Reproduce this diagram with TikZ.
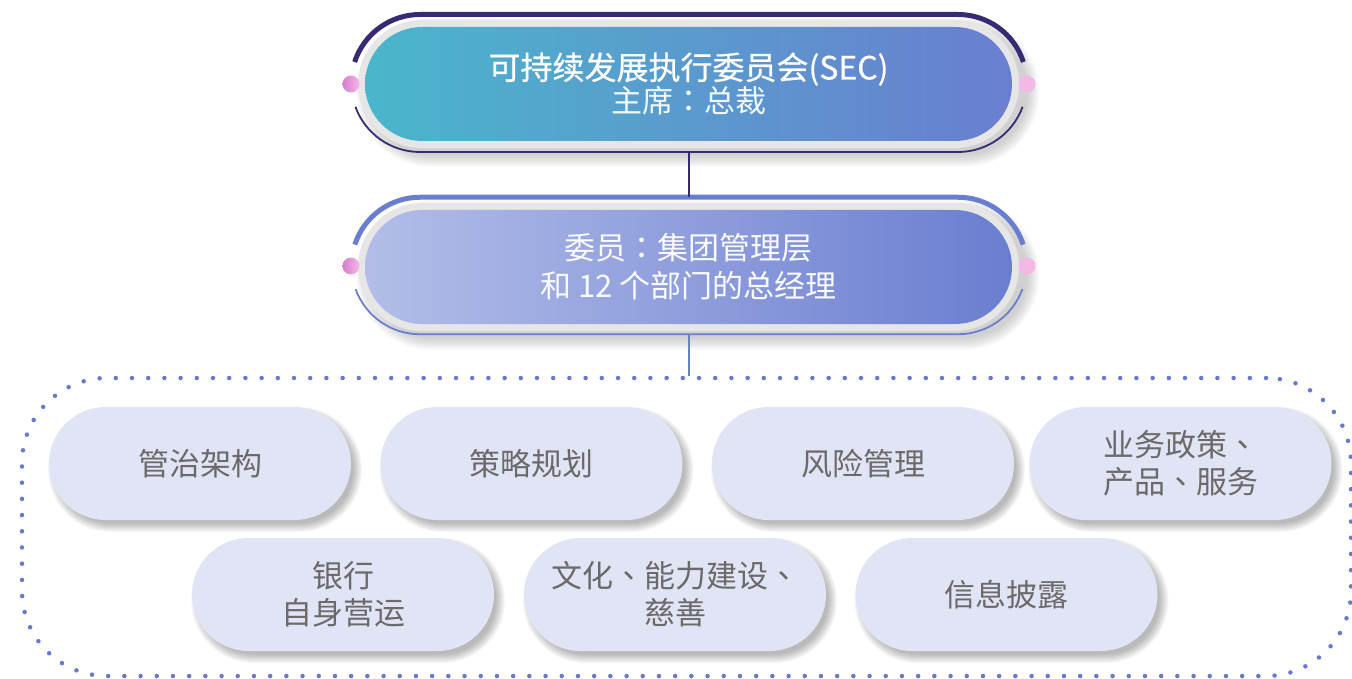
\documentclass[tikz,border=0pt]{standalone}
\usepackage{fontspec}
\setmainfont{Noto Sans CJK SC}
\newfontfamily\titlefont[FakeBold=0.6]{Noto Sans CJK SC}
\newfontfamily\tcfont{Noto Sans CJK TC}
\newcommand\dun{{\tcfont 、}}
\newcommand\mao{{\tcfont ：}}
\usetikzlibrary{shapes.misc}
\definecolor{darkp}{HTML}{372A74}
\definecolor{midb}{HTML}{6A7ED0}
\definecolor{teal1}{HTML}{4AB6CB}
\definecolor{lav}{HTML}{B3BDE8}
\definecolor{pillfill}{HTML}{E1E4F5}
\definecolor{txtgray}{HTML}{6A6A6A}
\definecolor{dotc}{HTML}{6878CF}
\definecolor{pinkA}{HTML}{D77DD0}
\definecolor{pinkB}{HTML}{F3B8E6}
\definecolor{ringgray}{HTML}{E6E6E6}
% soft shadow: cx cy w h dx dy step shrink opacity (pixel units, y downwards)
\newcommand\softsh[9]{%
  \foreach \i in {1,...,10}{%
    \pgfmathsetmacro\ee{\i*#7-#8}%
    \pgfmathsetmacro\rr{#4/2+\ee-0.05}%
    \fill[black,opacity=#9,rounded corners=\rr pt]
      ({#1-#3/2-\ee+#5},{-(#2)+#4/2+\ee-#6}) rectangle
      ({#1+#3/2+\ee+#5},{-(#2)-#4/2-\ee-#6});
  }}
\tikzset{
  pill/.style={rounded rectangle, minimum width=302pt, minimum height=113pt,
    fill=pillfill, text=txtgray, font=\fontsize{31}{37}\selectfont,
    align=center, inner sep=0pt},
  bigpill/.style={rounded rectangle, minimum width=647pt, minimum height=114pt,
    align=center, inner sep=0pt},
  ring/.style={rounded rectangle, minimum width=661pt, minimum height=128pt,
    fill=ringgray, inner sep=0pt},
  framebox/.style={rounded rectangle, minimum width=678pt, minimum height=137pt,
    inner sep=0pt, draw=none},
  thickarc/.style={line width=5pt},
  thinarc/.style={line width=1.8pt},
  conn/.style={line width=1.6pt},
}
\begin{document}
\begin{tikzpicture}[x=1pt,y=1pt]
\useasboundingbox (0,0) rectangle (1352,-679);

% ---------- frame 1 (SEC) ----------
\node[framebox] (f1) at (689,-83.25) {};
\softsh{693}{88}{661}{128}{5}{4}{1.3}{2}{0.02}
\node[ring] (r1) at (688.5,-84) {};
\node[bigpill, left color=teal1, right color=midb, text=white] (sec) at (688.5,-84)
  {{\titlefont\fontsize{32}{36}\selectfont 可持续发展执行委员会(SEC)}\\[0pt]
   {\fontsize{31}{36}\selectfont\color{white!92!teal1}主席\mao 总裁}};
\draw[darkp,thickarc] ([shift={(162:68.75)}]420,-83.25) arc[start angle=162,end angle=90,radius=68.75]
  -- (958,-14.5) arc[start angle=90,end angle=18,radius=68.75];
\draw[darkp,thinarc] ([shift={(200:68.75)}]420,-83.25) arc[start angle=200,end angle=270,radius=68.75]
  -- (958,-152) arc[start angle=270,end angle=340,radius=68.75];
\shade[left color=pinkA,right color=pinkB] (351,-84) circle (8.5);
\fill[pinkB] (1027,-84) circle (8.5);

% ---------- frame 2 (members) ----------
\node[framebox] (f2) at (689,-265.75) {};
\softsh{693}{271}{661}{128}{5}{4}{1.3}{2}{0.02}
\node[ring] (r2) at (688.5,-267) {};
\node[bigpill, left color=lav, right color=midb, text=white!94!lav,
  font=\fontsize{31}{38}\selectfont] (mem) at (688.5,-267)
  {委员\mao 集团管理层\\和 12 个部门的总经理};
\draw[midb,thickarc] ([shift={(162:68.5)}]420,-265.75) arc[start angle=162,end angle=90,radius=68.5]
  -- (958,-197.25) arc[start angle=90,end angle=18,radius=68.5];
\draw[midb,thinarc] ([shift={(200:68.5)}]420,-265.75) arc[start angle=200,end angle=270,radius=68.5]
  -- (958,-334.25) arc[start angle=270,end angle=340,radius=68.5];
\shade[left color=pinkA,right color=pinkB] (351,-266) circle (8.5);
\fill[pinkB] (1027,-266) circle (8.5);

% ---------- dotted group ----------
\node[rectangle, rounded corners=85pt, minimum width=1329pt, minimum height=298pt,
  draw=dotc, line width=4.5pt, dash pattern=on 0pt off 16.2pt, line cap=round,
  inner sep=0pt] (grp) at (686.5,-527) {};

% connectors
\draw[darkp,conn] (f1.south) -- (f2.north);
\draw[midb,conn] (f2.south) -- (f2.south |- grp.north);

% ---------- bottom pills ----------
\foreach \cx/\cy in {200/463.5, 531.5/463.5, 863/463.5, 1180.5/463.5,
                     343/594.5, 675/594.5, 1006.5/594.5}{%
  \softsh{\cx}{\cy}{302}{113}{5}{6}{1.0}{4}{0.03}
}

\node[pill] (p1) at (200,-463.5) {管治架构};
\node[pill] (p2) at (531.5,-463.5) {策略规划};
\node[pill] (p3) at (863,-463.5) {风险管理};
\node[pill] (p4) at (1180.5,-463.5) {业务政策\dun\\产品\dun 服务};
\node[pill] (p5) at (343,-594.5) {银行\\自身营运};
\node[pill] (p6) at (675,-594.5) {文化\dun 能力建设\dun\\慈善};
\node[pill] (p7) at (1006.5,-594.5) {信息披露};
\end{tikzpicture}
\end{document}
